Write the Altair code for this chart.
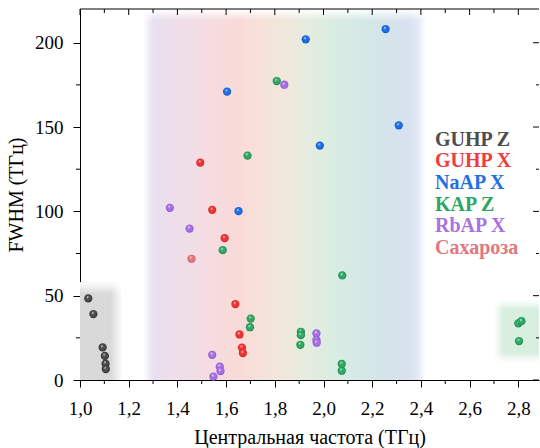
import altair as alt
import pandas as pd

FONT = "Liberation Serif"

# ---------------- data ----------------
series_names = ["GUHP Z", "GUHP X", "NaAP X", "KAP Z", "RbAP X", "Сахароза"]
series_colors = ["#4d4d4d", "#f03c3c", "#1f6fe5", "#2ea65f", "#a873e0", "#e0787f"]

guhp_z_x = [1.034, 1.055, 1.093, 1.102, 1.105, 1.106]
guhp_z_y = [48.4, 39.1, 19.3, 14.3, 9.7, 6.5]

guhp_x_x = [1.494, 1.543, 1.594, 1.638, 1.655, 1.665, 1.669]
guhp_x_y = [128.9, 100.9, 84.1, 45.0, 27.0, 19.2, 16.0]

naap_x_x = [2.255, 1.927, 1.604, 2.309, 1.985, 1.651]
naap_x_y = [208.1, 202.0, 171.0, 151.0, 139.0, 100.1]

kap_z_x = [1.808, 1.688, 1.586, 2.077, 1.701, 1.698, 1.907, 1.907, 1.905, 2.075, 2.075, 2.800, 2.813, 2.803]
kap_z_y = [177.3, 133.1, 77.0, 62.0, 36.4, 31.3, 28.6, 26.6, 20.9, 9.5, 5.5, 33.6, 34.9, 23.1]

rbap_x_x = [1.839, 1.369, 1.450, 1.971, 1.971, 1.972, 1.543, 1.574, 1.577, 1.548]
rbap_x_y = [175.1, 102.1, 89.8, 27.6, 23.7, 22.1, 14.9, 7.9, 5.3, 2.0]

sucrose_x = [1.458]
sucrose_y = [71.9]

# shaded regions (data units)
band_x = [1.26, 2.42]
band_y = [0, 220]
gray_box_x = [1.0, 1.175]
gray_box_y = [0, 58]
green_box_x = [2.70, 2.885]
green_box_y = [11, 47]

x_major = [1.0, 1.2, 1.4, 1.6, 1.8, 2.0, 2.2, 2.4, 2.6, 2.8]
x_minor = [1.1, 1.3, 1.5, 1.7, 1.9, 2.1, 2.3, 2.5, 2.7]
y_major = [0, 50, 100, 150, 200]
y_minor = [25, 75, 125, 175]

# ---------------- layout ----------------
W, H = 459, 371
xs = alt.Scale(domain=[1.0, 2.885], nice=False, zero=False)
ys = alt.Scale(domain=[0, 220], nice=False, zero=False)

axis_x = alt.Axis(
    values=x_major, labelExpr="replace(format(datum.value, '.1f'), '.', ',')",
    title="Центральная частота (ТГц)", tickSize=7, labelPadding=12, grid=False,
    titlePadding=9, labelFlush=False, labelOverlap=False,
)
axis_y = alt.Axis(
    values=y_major, format="d", title="FWHM (ТГц)", tickSize=7, labelPadding=10,
    grid=False, titlePadding=8,
)


def X(f="x"):
    return alt.X(f"{f}:Q", scale=xs, axis=axis_x)


def Y(f="y"):
    return alt.Y(f"{f}:Q", scale=ys, axis=axis_y)


def lin(stops, vertical=False):
    return alt.LinearGradient(
        gradient="linear",
        stops=[alt.GradientStop(offset=o, color=c) for o, c in stops],
        x1=0, y1=0, x2=0 if vertical else 1, y2=1 if vertical else 0,
    )


def rect(xr, yr, fill, clip=False):
    df = pd.DataFrame({"x": [xr[0]], "x2": [xr[1]], "y": [yr[0]], "y2": [yr[1]]})
    return alt.Chart(df).mark_rect(fill=fill, clip=clip).encode(
        x=X(), x2="x2:Q", y=Y(), y2="y2:Q"
    )


WHITE = "rgba(255,255,255,1)"
CLEAR = "rgba(255,255,255,0)"

band = rect(band_x, band_y, lin([
    (0.0, "#ffffff"), (0.035, "#e7e1f1"), (0.08, "#ecdfec"), (0.165, "#f1dee6"),
    (0.25, "#f6dcdf"), (0.336, "#f9dad8"), (0.42, "#f6e2d9"), (0.51, "#efe8da"),
    (0.595, "#e3eddf"), (0.68, "#d9ece3"), (0.767, "#d5e9e6"), (0.853, "#d5e4ea"),
    (0.94, "#d8e2ef"), (0.975, "#e6ebf5"), (1.0, "#ffffff"),
]))
band_top = rect(band_x, [213, 220], lin([(0, WHITE), (1, CLEAR)], vertical=True))

gray = rect(gray_box_x, gray_box_y, lin([(0, "#d9d9d9"), (0.72, "#d9d9d9"), (1, "#ffffff")]))
gray_top = rect(gray_box_x, [51, 58], lin([(0, WHITE), (1, CLEAR)], vertical=True))

green = rect(green_box_x, green_box_y, lin([(0, "#ffffff"), (0.22, "#d8efe0"), (1, "#d8efe0")]))
green_top = rect(green_box_x, [42, 47], lin([(0, WHITE), (1, CLEAR)], vertical=True))
green_bot = rect(green_box_x, [11, 16], lin([(0, CLEAR), (1, WHITE)], vertical=True))


def balls(xv, yv, light, base, dark):
    df = pd.DataFrame({"x": xv, "y": yv})
    grad = alt.RadialGradient(
        gradient="radial",
        stops=[alt.GradientStop(offset=0, color="#ffffff"),
               alt.GradientStop(offset=0.12, color=light),
               alt.GradientStop(offset=0.34, color=base),
               alt.GradientStop(offset=0.8, color=base),
               alt.GradientStop(offset=1, color=dark)],
        x1=0.4, y1=0.32, r1=0, x2=0.5, y2=0.5, r2=0.5,
    )
    return alt.Chart(df).mark_circle(fill=grad, opacity=1, size=68).encode(x=X(), y=Y())


pts = [
    balls(guhp_z_x, guhp_z_y, "#bdbdbd", "#4a4a4a", "#262626"),
    balls(guhp_x_x, guhp_x_y, "#ffb3b3", "#ee3535", "#c01d1d"),
    balls(naap_x_x, naap_x_y, "#a8c8ff", "#1b6ee6", "#0d4db5"),
    balls(kap_z_x, kap_z_y, "#a8e6c0", "#2ea864", "#1a7a45"),
    balls(rbap_x_x, rbap_x_y, "#e3cbff", "#a86fe3", "#7f4cc0"),
    balls(sucrose_x, sucrose_y, "#fbc8cc", "#e37880", "#bb5560"),
]


def xrules(vals, y0, y1):
    return alt.Chart(pd.DataFrame({"x": vals})).mark_rule(color="black", strokeWidth=1).encode(
        x=X(), y=alt.value(y0), y2=alt.value(y1))


def yrules(vals, x0, x1):
    return alt.Chart(pd.DataFrame({"y": vals})).mark_rule(color="black", strokeWidth=1).encode(
        y=Y(), x=alt.value(x0), x2=alt.value(x1))


ticks = [
    xrules(x_minor, H, H + 4),
    xrules(x_major, 0, 6),
    xrules(x_minor, 0, 4),
    yrules(y_minor, -4, 0),
    yrules(y_major, W - 6, W),
    yrules(y_minor, W - 3, W),
]
top_line = alt.Chart(pd.DataFrame({"x": [1.0]})).mark_rule(color="black", strokeWidth=1).encode(
    x=alt.value(0), x2=alt.value(W), y=alt.value(0))

main = alt.layer(band, band_top, gray, gray_top, green, green_top, green_bot,
                 *pts, *ticks, top_line)

legend_df = pd.DataFrame({"name": series_names, "color": series_colors})
legend = alt.Chart(legend_df).mark_text(
    align="left", baseline="alphabetic", font=FONT, fontWeight="bold", fontSize=20
).encode(
    x=alt.value(355),
    y=alt.Y("name:N", sort=series_names,
            scale=alt.Scale(type="point", range=[136.7, 245], padding=0), axis=None),
    text="name:N",
    color=alt.Color("name:N", scale=alt.Scale(domain=series_names, range=series_colors), legend=None),
)

chart = alt.layer(main, legend).resolve_scale(y="independent", color="independent").properties(
    width=W, height=H,
    autosize=alt.AutoSizeParams(type="none"),
    padding={"left": 80, "top": 9, "right": 1, "bottom": 68},
).configure_view(stroke=None).configure_axis(
    labelFont=FONT, titleFont=FONT, labelFontSize=19, titleFontSize=20,
    labelColor="black", titleColor="black", domainColor="black", tickColor="black",
    titleFontWeight="normal", domainWidth=1, tickWidth=1,
)

chart.save("out.html", embed_options={"renderer": "svg", "actions": False})
